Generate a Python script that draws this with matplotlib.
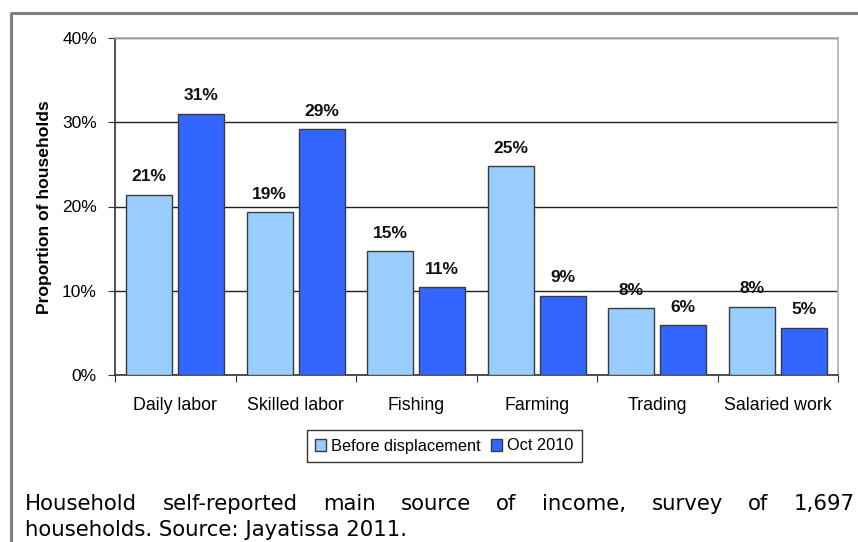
import numpy as np
import matplotlib.pyplot as plt
from matplotlib.lines import Line2D

# data
categories = ['Daily labor', 'Skilled labor', 'Fishing', 'Farming', 'Trading', 'Salaried work']
before = [21.4, 19.3, 14.7, 24.8, 7.9, 8.1]
oct2010 = [31.0, 29.2, 10.4, 9.4, 5.9, 5.6]
before_labels = ['21%', '19%', '15%', '25%', '8%', '8%']
oct_labels = ['31%', '29%', '11%', '9%', '6%', '5%']
caption_line1 = 'Household self-reported main source of income, survey of 1,697'
caption_line2 = 'households. Source: Jayatissa 2011.'

W, H = 858, 542
fig = plt.figure(figsize=(W / 100, H / 100), dpi=100)
plt.rcParams['font.family'] = ['Liberation Sans', 'DejaVu Sans']

ax = fig.add_axes([115 / W, 1 - 375 / H, (838 - 115) / W, (375 - 38) / H])

x = np.arange(len(categories))
bw = 0.38
off = 0.216
b1 = ax.bar(x - off, before, bw, color='#99ccff', edgecolor='#3a3a3a', linewidth=1.0,
            label='Before displacement', zorder=3)
b2 = ax.bar(x + off, oct2010, bw, color='#3366ff', edgecolor='#3a3a3a', linewidth=1.0,
            label='Oct 2010', zorder=3)

for rect, lab in zip(b1, before_labels):
    ax.annotate(lab, (rect.get_x() + rect.get_width() / 2, rect.get_height()),
                xytext=(0, 7.5), textcoords='offset points', ha='center', va='bottom',
                fontsize=12.5, fontweight='bold', color='#111111', zorder=2)
for rect, lab in zip(b2, oct_labels):
    ax.annotate(lab, (rect.get_x() + rect.get_width() / 2, rect.get_height()),
                xytext=(0, 7.5), textcoords='offset points', ha='center', va='bottom',
                fontsize=12.5, fontweight='bold', color='#111111', zorder=2)

ax.set_xlim(-0.5, len(categories) - 0.5)
ax.set_ylim(0, 40)
ax.set_yticks([0, 10, 20, 30, 40])
ax.set_yticklabels(['0%', '10%', '20%', '30%', '40%'], fontsize=12.5)
ax.yaxis.grid(True, color='#222222', linewidth=1.0, zorder=1)
ax.set_axisbelow(True)

ax.set_xticks(np.arange(len(categories) + 1) - 0.5)
ax.set_xticklabels([])
ax.set_xticks(x, minor=True)
ax.set_xticklabels(categories, minor=True, fontsize=12.8)
ax.tick_params(axis='x', which='minor', length=0, pad=16)
ax.tick_params(axis='x', which='major', length=5, direction='out', color='#333333')
ax.tick_params(axis='y', length=5, direction='out', pad=8, color='#333333')

ax.spines['left'].set_color('#333333')
ax.spines['bottom'].set_color('#333333')
ax.spines['top'].set_color('#b0b0b0')
ax.spines['right'].set_color('#b0b0b0')
for s in ax.spines.values():
    s.set_linewidth(1.2)

fig.text(45 / W, 1 - 207 / H, 'Proportion of households', rotation=90, ha='center',
         va='center', fontsize=12.6, fontweight='bold')

leg = fig.legend(handles=[b1, b2], loc='center', bbox_to_anchor=(444 / W, 1 - 446 / H),
                 ncol=2, frameon=True, fancybox=False, fontsize=11.8, handlelength=0.7,
                 handleheight=0.7, handletextpad=0.3, columnspacing=0.6,
                 borderpad=0.5, edgecolor='black')
leg.get_frame().set_linewidth(1.0)

# outer frame
fig.add_artist(Line2D([11 / W, 11 / W, 1.0], [0, 1 - 13 / H, 1 - 13 / H],
                      transform=fig.transFigure, color='#808080', linewidth=2.2))

# justified caption
fig.canvas.draw()
renderer = fig.canvas.get_renderer()
cap_font = dict(family='DejaVu Sans', fontsize=15.3, color='black')
words = caption_line1.split(' ')
objs = [fig.text(0, 0, w, ha='left', va='baseline', **cap_font) for w in words]
widths = [o.get_window_extent(renderer).width for o in objs]
x0, x1 = 25, 855
gap = (x1 - x0 - sum(widths)) / (len(words) - 1)
xpos = x0
for o, w in zip(objs, widths):
    o.set_position((xpos / W, 1 - 510 / H))
    xpos += w + gap
fig.text(x0 / W, 1 - 536 / H, caption_line2, ha='left', va='baseline', **cap_font)

fig.savefig('out.png', dpi=100)
